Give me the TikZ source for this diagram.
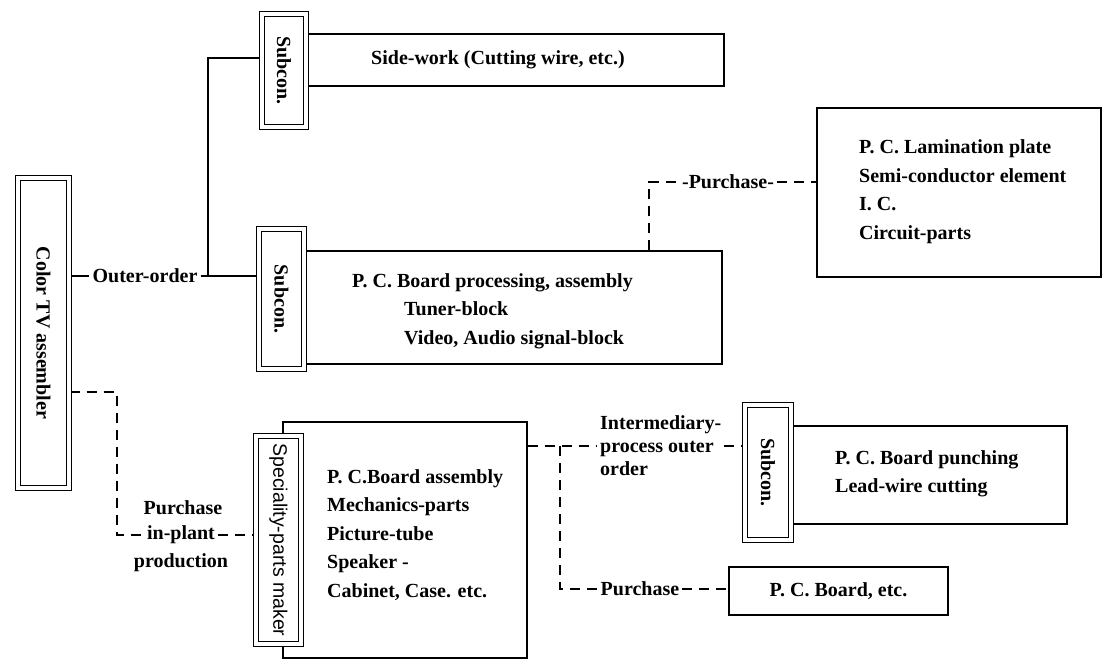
\documentclass[tikz,border=0pt]{standalone}
\usepackage{fontspec}
\setmainfont{Liberation Serif}
\setsansfont{Liberation Sans}
\usepackage{tikz}
\usetikzlibrary{positioning,backgrounds}

\newcommand{\chartfont}{\bfseries\fontsize{20}{28.5}\selectfont}

\begin{document}
\begin{tikzpicture}[x=1pt,y=-1pt,
    every node/.style={font=\chartfont,inner sep=0pt},
    dbox/.style={draw,double,double distance=3.5pt,line width=1.3pt,fill=white},
    sbox/.style={draw,line width=1.2pt},
    label/.style={inner xsep=3pt},
    link/.style={line width=1.1pt},
    dlink/.style={link,dash pattern=on 10pt off 7pt}]
  \begin{scope}[on background layer]
    \fill[white] (0,0) rectangle (1103,660);
  \end{scope}
  \useasboundingbox (0,0) rectangle (1103,660);

  \node[sbox,minimum width=418pt,minimum height=52pt] (side) at (515,60) {};
  \node[sbox,minimum width=418pt,minimum height=113pt] (proc) at (513,307.5) {};
  \node[sbox,minimum width=284pt,minimum height=169pt] (lam) at (959,192.5) {};
  \node[sbox,minimum width=244pt,minimum height=236pt] (big) at (405,540) {};
  \node[sbox,minimum width=276pt,minimum height=98pt] (punch) at (929,475) {};
  \node[sbox,minimum width=219pt,minimum height=48pt] (board) at (838.5,591) {P. C. Board, etc.};

  \node[dbox,minimum width=51pt,minimum height=310pt] (tv) at (43.5,333) {\rotatebox{-90}{Color TV assembler}};
  \node[dbox,minimum width=44pt,minimum height=113pt] (sub1) at (284,70.5) {\rotatebox{-90}{Subcon.}};
  \node[dbox,minimum width=45pt,minimum height=140pt] (sub2) at (281.5,299) {\rotatebox{-90}{Subcon.}};
  \node[dbox,minimum width=45pt,minimum height=208pt,font=\sffamily\fontsize{19.5}{24}\selectfont] (spec) at (278.5,540) {\rotatebox{-90}{Speciality-parts maker}};
  \node[dbox,minimum width=46pt,minimum height=135pt] (sub3) at (768,472.5) {\rotatebox{-90}{Subcon.}};

  \node[anchor=west] (sidetxt) at (371,60) {Side-work (Cutting wire, etc.)};
  \node[anchor=west,align=left] (proctxt) at (352,311) {P. C. Board processing, assembly\\\hspace*{52pt}Tuner-block\\\hspace*{52pt}Video, Audio signal-block};
  \node[anchor=west,align=left] (lamtxt) at (859,191.5) {P. C. Lamination plate\\Semi-conductor element\\I. C.\\Circuit-parts};
  \node[anchor=west,align=left] (sptxt) at (327,535) {P. C.Board assembly\\Mechanics-parts\\Picture-tube\\Speaker -\\Cabinet, Case. etc.};
  \node[anchor=west,align=left] (punchtxt) at (835,474) {P. C. Board punching\\Lead-wire cutting};

  \node[label] (ord) at (145,276) {Outer-order};
  \node[label] (buy1) at (728,182) {-Purchase-};
  \node[label] (inplant) at (181,535) {in-plant};
  \node (purch) at (183,508) {Purchase};
  \node (prod) at (181,563) {production};
  \node[label,anchor=west,align=left,font=\bfseries\fontsize{20}{23}\selectfont] (ilbl) at (597,446) {Intermediary-\\process outer\\order};
  \node[label] (buy2) at (640,589) {Purchase};

  \coordinate (jo) at (208,276);
  \coordinate (jt) at (208,58);
  \coordinate (jl) at (117,392);
  \coordinate (jp) at (649,182);
  \coordinate (jb) at (560,446);

  \begin{scope}[on background layer]
    \draw[link] (tv.east |- ord.west) -- (ord.west);
    \draw[link] (ord.east) -- (ord.east -| sub2.west);
    \draw[link] (jo) -- (jt) -- (jt -| sub1.west);
    \draw[dlink] (tv.east |- jl) -- (jl) |- (inplant.west);
    \draw[dlink] (inplant.east) -- (inplant.east -| spec.west);
    \draw[dlink] (jp |- proc.north) -- (jp) -- (buy1.west);
    \draw[dlink] (buy1.east) -- (buy1.east -| lam.west);
    \draw[dlink] (big.east |- jb) -- (ilbl.west |- jb);
    \draw[dlink] (ilbl.east |- jb) -- (sub3.west |- jb);
    \draw[dlink] (jb) |- (buy2.west);
    \draw[dlink] (buy2.east) -- (buy2.east -| board.west);
  \end{scope}
\end{tikzpicture}
\end{document}
